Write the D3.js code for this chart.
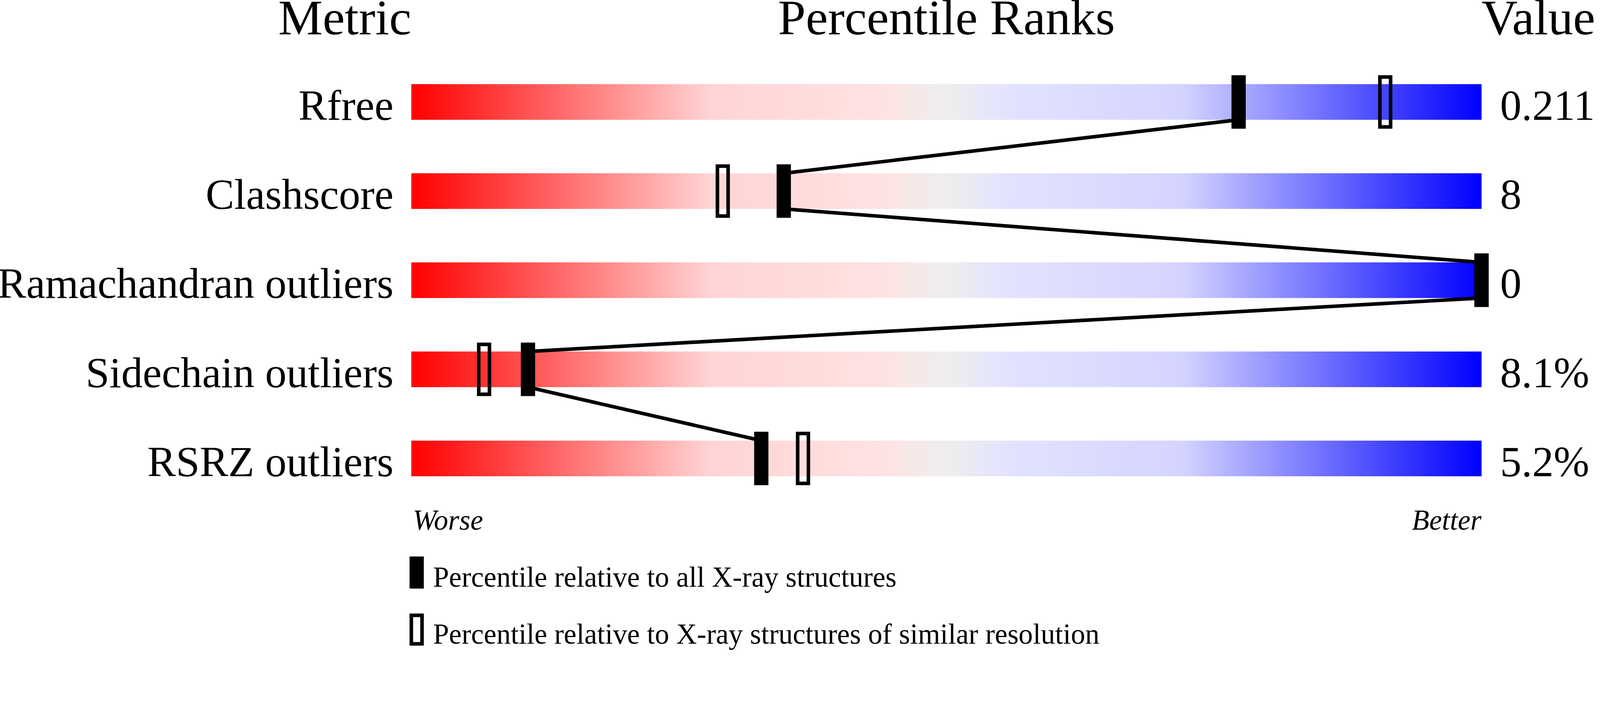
<!DOCTYPE html>
<html>
<head>
<meta charset="utf-8">
<script src="https://cdn.jsdelivr.net/npm/d3@7"></script>
<style>
  html, body { margin: 0; padding: 0; background: #fff; overflow: hidden; }
  #plot svg { display: block; width: 100vw; height: auto; }
  text { font-family: "Liberation Serif", "Times New Roman", serif; fill: #000; }
</style>
</head>
<body>
<div id="plot"></div>
<script>
// Data
const metrics = ["Rfree", "Clashscore", "Ramachandran outliers", "Sidechain outliers", "RSRZ outliers"];
const values = ["0.211", "8", "0", "8.1%", "5.2%"];
const pctAll = [77.3, 34.8, 100, 10.9, 32.7];      // percentile vs all X-ray structures
const pctSimilar = [91.0, 29.1, 100, 6.8, 36.6];   // percentile vs similar resolution
const headers = ["Metric", "Percentile Ranks", "Value"];
const endLabels = ["Worse", "Better"];
const legendLabels = [
  "Percentile relative to all X-ray structures",
  "Percentile relative to X-ray structures of similar resolution"
];

// Dimensions
const width = 4485, height = 1824;
const barLeft = 1153, barRight = 4153;
const barH = 100, markW = 40, markH = 150, markOver = 25;

const svg = d3.select('#plot')
  .append('svg')
  .attr('viewBox', `0 0 ${width} ${height}`)
  .attr('preserveAspectRatio', 'xMinYMin meet')
  .style('background', '#fff');

// Scales
const x = d3.scaleLinear().domain([0, 100]).range([barLeft, barRight]);
const y = d3.scalePoint().domain(metrics).range([236, 1236]); // top of each bar

// Red - grey - blue gradient
const gradientStops = [
  [0, '#ff0000'], [0.28, '#ffd4d4'], [0.44, '#ffe2e2'], [0.5, '#eeeeee'],
  [0.56, '#e2e2ff'], [0.72, '#d4d4ff'], [1, '#0000ff']
];
const grad = svg.append('defs').append('linearGradient')
  .attr('id', 'rank-grad')
  .attr('x1', '0%').attr('x2', '100%').attr('y1', '0%').attr('y2', '0%');
grad.selectAll('stop')
  .data(gradientStops)
  .join('stop')
  .attr('offset', d => d[0])
  .attr('stop-color', d => d[1]);

// Headers
svg.append('text')
  .attr('x', x(0)).attr('y', 96)
  .attr('text-anchor', 'end')
  .style('font-size', '140px')
  .text(headers[0]);
svg.append('text')
  .attr('x', x(50)).attr('y', 96)
  .attr('text-anchor', 'middle')
  .style('font-size', '140px')
  .text(headers[1]);
svg.append('text')
  .attr('x', x(100)).attr('y', 96)
  .attr('text-anchor', 'start')
  .style('font-size', '140px')
  .text(headers[2]);

// Bars
svg.append('g')
  .selectAll('rect')
  .data(metrics)
  .join('rect')
  .attr('x', x(0))
  .attr('y', d => y(d))
  .attr('width', x(100) - x(0))
  .attr('height', barH)
  .attr('fill', 'url(#rank-grad)');

// Metric labels
svg.append('g')
  .selectAll('text')
  .data(metrics)
  .join('text')
  .attr('x', x(0) - 50)
  .attr('y', d => y(d) + barH)
  .attr('text-anchor', 'end')
  .style('font-size', '120px')
  .text(d => d);

// Values
svg.append('g')
  .selectAll('text')
  .data(values)
  .join('text')
  .attr('x', x(100) + 52)
  .attr('y', (d, i) => y(metrics[i]) + barH)
  .style('font-size', '120px')
  .text(d => d);

// Connecting line between the "all structures" markers
const linePts = [];
pctAll.forEach((p, i) => {
  if (i > 0) linePts.push([x(p), y(metrics[i])]);
  if (i < pctAll.length - 1) linePts.push([x(p), y(metrics[i]) + barH]);
});
svg.append('path')
  .attr('d', d3.line()(linePts))
  .attr('fill', 'none')
  .attr('stroke', '#000')
  .attr('stroke-width', 10)
  .attr('stroke-linejoin', 'bevel');

// Open markers (similar resolution)
svg.append('g')
  .selectAll('rect')
  .data(pctSimilar)
  .join('rect')
  .attr('x', d => x(d) - markW / 2 + 5)
  .attr('y', (d, i) => y(metrics[i]) - markOver + 5)
  .attr('width', markW - 10)
  .attr('height', markH - 10)
  .attr('fill', 'none')
  .attr('stroke', '#000')
  .attr('stroke-width', 10);

// Filled markers (all structures)
svg.append('g')
  .selectAll('rect')
  .data(pctAll)
  .join('rect')
  .attr('x', d => x(d) - markW / 2)
  .attr('y', (d, i) => y(metrics[i]) - markOver)
  .attr('width', markW)
  .attr('height', markH)
  .attr('fill', '#000');

// Worse / Better
svg.append('text')
  .attr('x', x(0) + 4).attr('y', 1486)
  .style('font-size', '80px')
  .style('font-style', 'italic')
  .text(endLabels[0]);
svg.append('text')
  .attr('x', x(100)).attr('y', 1486)
  .attr('text-anchor', 'end')
  .style('font-size', '80px')
  .style('font-style', 'italic')
  .text(endLabels[1]);

// Legend
const legend = svg.append('g')
  .attr('transform', `translate(${x(0) - 5},1561)`);

legend.append('rect')
  .attr('x', 0).attr('y', 0)
  .attr('width', markW).attr('height', 90)
  .attr('fill', '#000');
legend.append('rect')
  .attr('x', 5).attr('y', 165)
  .attr('width', markW - 10).attr('height', 80)
  .attr('fill', 'none')
  .attr('stroke', '#000')
  .attr('stroke-width', 10);

legend.selectAll('text')
  .data(legendLabels)
  .join('text')
  .attr('x', 66)
  .attr('y', (d, i) => 85 + i * 160)
  .style('font-size', '80px')
  .text(d => d);
</script>
</body>
</html>
